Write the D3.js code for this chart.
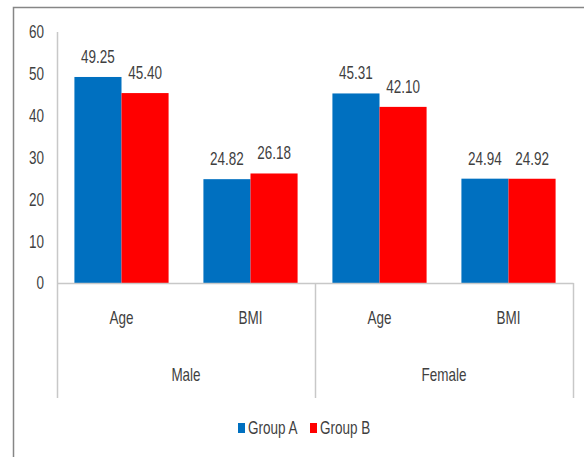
<!DOCTYPE html>
<html>
<head>
<meta charset="utf-8">
<script src="https://cdn.jsdelivr.net/npm/d3@7"></script>
<style>
  html, body { margin: 0; padding: 0; background: #fff; }
  svg { display: block; }
  text { font-family: "Liberation Sans", Arial, sans-serif; fill: #3f3f3f; font-size: 18px; }
</style>
</head>
<body>
<svg id="chart" width="584" height="457"></svg>
<script>
// Grouped bar data: two sexes, each with Age and BMI, for two groups
const sexes = ["Male", "Female"];
const measures = ["Age", "BMI"];
const groups = ["Group A", "Group B"];
const groupAValues = [49.25, 24.82, 45.31, 24.94];
const groupBValues = [45.40, 26.18, 42.10, 24.92];
const yTicks = [0, 10, 20, 30, 40, 50, 60];
const groupColors = ["#0070C0", "#FF0000"];

// one row per sex × measure category
const cats = [];
sexes.forEach(s => measures.forEach(m => cats.push({ sex: s, measure: m, key: s + "|" + m })));
const series = [groupAValues, groupBValues];

const svg = d3.select("#chart");
const plot = { left: 57, right: 573, top: 32, bottom: 283, lower: 398 };
const squeeze = 0.75; // horizontal condensing of all labels

// place a text at (px, py) with a condensed face
function placeText(sel, px, py) {
  return sel.attr("x", 0).attr("y", 0)
    .attr("transform", (d, i) => `translate(${px(d, i)},${py(d, i)}) scale(${squeeze},1)`);
}

// outer frame
svg.append("path")
  .attr("d", `M13.5,457 V7.5 H584`)
  .attr("fill", "none")
  .attr("stroke", "#868686")
  .attr("stroke-width", 1.5);

const x = d3.scaleBand()
  .domain(cats.map(c => c.key))
  .range([plot.left, plot.right])
  .paddingInner(0.27)
  .paddingOuter(0.135);

const xSub = d3.scaleBand()
  .domain(groups)
  .range([0, x.bandwidth()]);

const y = d3.scaleLinear()
  .domain([0, 60])
  .range([plot.bottom, plot.top]);

// y axis line and tick labels
svg.append("line")
  .attr("x1", plot.left + 0.5).attr("x2", plot.left + 0.5)
  .attr("y1", y(60)).attr("y2", plot.lower)
  .attr("stroke", "#c8c8c8").attr("stroke-width", 1.5);

placeText(svg.append("g").selectAll("text")
  .data(yTicks)
  .join("text"), () => 44, d => y(d))
  .attr("dy", "0.36em")
  .attr("text-anchor", "end")
  .text(d => d);

// bars
const catG = svg.append("g").selectAll("g")
  .data(cats)
  .join("g")
  .attr("transform", d => `translate(${x(d.key)},0)`);

const cellData = (d, i) => groups.map((g, j) => ({ group: g, j, value: series[j][i] }));

catG.selectAll("rect")
  .data(cellData)
  .join("rect")
  .attr("x", d => xSub(d.group))
  .attr("width", xSub.bandwidth())
  .attr("y", d => y(d.value))
  .attr("height", d => y(0) - y(d.value))
  .attr("fill", d => groupColors[d.j]);

// value labels
placeText(catG.selectAll("text.val")
  .data(cellData)
  .join("text")
  .attr("class", "val"),
  d => xSub(d.group) + xSub.bandwidth() / 2,
  d => y(d.value) - 14)
  .attr("text-anchor", "middle")
  .text(d => d.value.toFixed(2));

// baseline and category separators
svg.append("line")
  .attr("x1", plot.left).attr("x2", plot.right + 0.5)
  .attr("y1", y(0) + 0.5).attr("y2", y(0) + 0.5)
  .attr("stroke", "#c8c8c8").attr("stroke-width", 1.5);

const sexBounds = sexes.map(s => {
  const ks = cats.filter(c => c.sex === s).map(c => c.key);
  const gap = x.step() * x.paddingInner() / 2;
  return { sex: s, x0: x(ks[0]) - gap, x1: x(ks[ks.length - 1]) + x.bandwidth() + gap };
});

svg.append("g").selectAll("line")
  .data(sexBounds.slice(0, -1).map(b => b.x1).concat([plot.right]))
  .join("line")
  .attr("x1", d => Math.round(d) + 0.5).attr("x2", d => Math.round(d) + 0.5)
  .attr("y1", y(0)).attr("y2", plot.lower)
  .attr("stroke", "#c8c8c8").attr("stroke-width", 1.5);

// measure labels
placeText(svg.append("g").selectAll("text")
  .data(cats)
  .join("text"),
  d => x(d.key) + x.bandwidth() / 2, () => 318)
  .attr("dy", "0.36em")
  .attr("text-anchor", "middle")
  .text(d => d.measure);

// sex labels
placeText(svg.append("g").selectAll("text")
  .data(sexBounds)
  .join("text"),
  d => (d.x0 + d.x1) / 2, () => 375)
  .attr("dy", "0.36em")
  .attr("text-anchor", "middle")
  .text(d => d.sex);

// legend
const legendX = [238, 310];
const legend = svg.append("g").selectAll("g")
  .data(groups)
  .join("g")
  .attr("transform", (d, j) => `translate(${legendX[j]},423)`);
legend.append("rect")
  .attr("width", 7).attr("height", 10)
  .attr("fill", (d, j) => groupColors[j]);
placeText(legend.append("text"), () => 10, () => 5)
  .attr("dy", "0.36em")
  .text(d => d);
</script>
</body>
</html>
